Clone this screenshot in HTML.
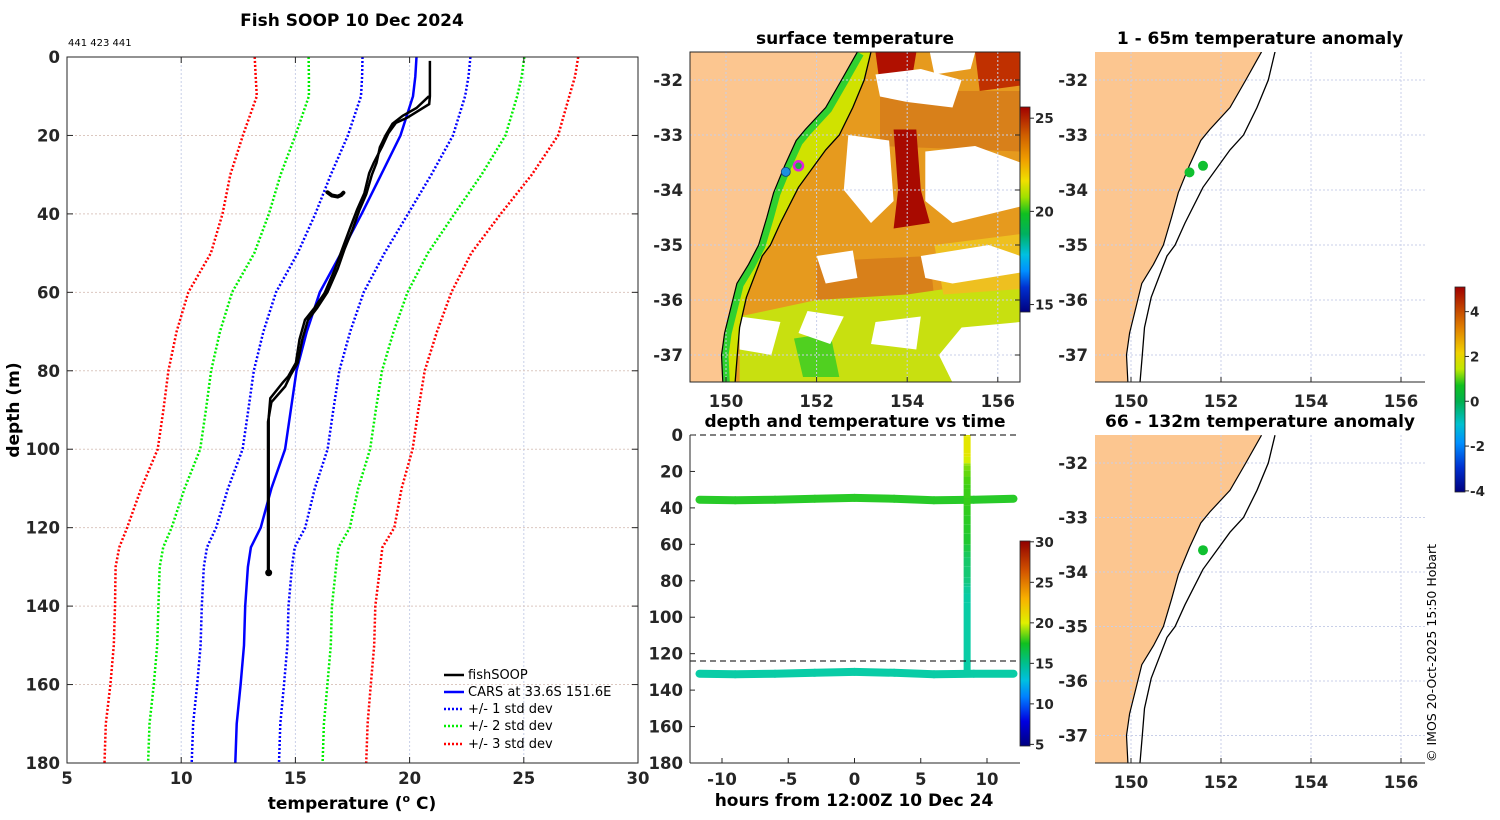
<!DOCTYPE html>
<html><head><meta charset="utf-8"><title>Fish SOOP 10 Dec 2024</title>
<style>
html,body{margin:0;padding:0;background:#fff;}
svg{display:block;font-family:"DejaVu Sans","Liberation Sans",sans-serif;}
.tk{font-size:16.5px;font-weight:bold;fill:#262626;}
.tt{font-size:17px;font-weight:bold;fill:#000;}
.cb{font-size:13.5px;font-weight:bold;fill:#262626;}
.lg{font-size:13px;fill:#000;}
</style></head>
<body>
<svg id="fig" width="1500" height="820" viewBox="0 0 1500 820" xmlns="http://www.w3.org/2000/svg">
<defs>
<clipPath id="clipL"><rect x="67" y="57" width="571" height="706"/></clipPath>
<clipPath id="clipM"><rect x="690" y="52" width="330" height="330"/></clipPath>
<clipPath id="clipT"><rect x="690" y="435" width="330" height="328"/></clipPath>
<clipPath id="clipR1"><rect x="1095" y="52" width="330" height="330"/></clipPath>
<clipPath id="clipR2"><rect x="1095" y="435" width="330" height="328"/></clipPath>
<linearGradient id="gSst" x1="0" y1="1" x2="0" y2="0">
<stop offset="0" stop-color="#00007f"/><stop offset="0.12" stop-color="#0030d0"/><stop offset="0.2" stop-color="#0090ff"/><stop offset="0.28" stop-color="#00c0e0"/><stop offset="0.38" stop-color="#00b060"/><stop offset="0.48" stop-color="#10c020"/><stop offset="0.56" stop-color="#a0e000"/><stop offset="0.64" stop-color="#f0e000"/><stop offset="0.74" stop-color="#f0a000"/><stop offset="0.86" stop-color="#d06000"/><stop offset="1" stop-color="#a00000"/></linearGradient>
<linearGradient id="gTime" x1="0" y1="1" x2="0" y2="0">
<stop offset="0" stop-color="#00007f"/><stop offset="0.12" stop-color="#0000e0"/><stop offset="0.24" stop-color="#0080ff"/><stop offset="0.32" stop-color="#00c0e0"/><stop offset="0.4" stop-color="#00c090"/><stop offset="0.5" stop-color="#10c020"/><stop offset="0.6" stop-color="#e0f000"/><stop offset="0.72" stop-color="#f8b000"/><stop offset="0.86" stop-color="#d05000"/><stop offset="1" stop-color="#900000"/></linearGradient>
<linearGradient id="gAnom" x1="0" y1="1" x2="0" y2="0">
<stop offset="0" stop-color="#00007f"/><stop offset="0.12" stop-color="#0030d0"/><stop offset="0.24" stop-color="#0090ff"/><stop offset="0.33" stop-color="#00c0d0"/><stop offset="0.44" stop-color="#00b050"/><stop offset="0.52" stop-color="#10c020"/><stop offset="0.6" stop-color="#c0e800"/><stop offset="0.68" stop-color="#f0d000"/><stop offset="0.8" stop-color="#e08000"/><stop offset="1" stop-color="#a00000"/></linearGradient>
</defs>

<text class="tt" x="352" y="26" text-anchor="middle">Fish SOOP 10 Dec 2024</text>
<text x="68" y="46" font-size="10" fill="#000">441 423 441</text>
<text class="tt" x="352" y="809" text-anchor="middle">temperature (<tspan font-size="11" dy="-7">o</tspan><tspan dy="7"> C)</tspan></text>
<text class="tt" transform="translate(19,410) rotate(-90)" text-anchor="middle">depth (m)</text>

<text class="tt" x="855" y="44" text-anchor="middle">surface temperature</text>
<text class="tt" x="855" y="427" text-anchor="middle">depth and temperature vs time</text>
<text class="tt" x="854" y="806" text-anchor="middle">hours from 12:00Z 10 Dec 24</text>
<text class="tt" x="1260" y="44" text-anchor="middle">1 - 65m temperature anomaly</text>
<text class="tt" x="1260" y="427" text-anchor="middle">66 - 132m temperature anomaly</text>
<text transform="translate(1436,762) rotate(-90)" font-size="12.5" fill="#000">© IMOS 20-Oct-2025 15:50 Hobart</text>

<g id="gL"></g>
<g id="gM"></g>
<g id="gT"></g>
<g id="gR1"></g>
<g id="gR2"></g>
<g id="gC"></g>

<g>
<line x1="444" y1="675" x2="464" y2="675" stroke="#000" stroke-width="2.5"/>
<text class="lg" x="468" y="679">fishSOOP</text>
<line x1="444" y1="692" x2="464" y2="692" stroke="#0000ff" stroke-width="2.5"/>
<text class="lg" x="468" y="696">CARS at 33.6S 151.6E</text>
<line x1="444" y1="709" x2="464" y2="709" stroke="#0000ff" stroke-width="2.5" stroke-dasharray="2,2"/>
<text class="lg" x="468" y="713">+/- 1 std dev</text>
<line x1="444" y1="726" x2="464" y2="726" stroke="#00ee00" stroke-width="2.5" stroke-dasharray="2,2"/>
<text class="lg" x="468" y="730">+/- 2 std dev</text>
<line x1="444" y1="744" x2="464" y2="744" stroke="#ff0000" stroke-width="2.5" stroke-dasharray="2,2"/>
<text class="lg" x="468" y="748">+/- 3 std dev</text>
</g>
</svg>
<script>
// ---------- profile data ----------
const carsDepth = [0,5,10,20,30,40,50,60,70,80,90,100,110,120,125,130,140,150,160,170,180];
const carsMean = [20.3,20.25,20.15,19.6,18.75,17.9,17.0,16.07,15.5,15.05,14.8,14.55,13.95,13.48,13.05,12.92,12.8,12.75,12.6,12.43,12.37];
const carsSd = [2.36,2.33,2.28,2.3,2.2,2.03,1.9,1.92,1.9,1.87,1.86,1.86,1.9,1.95,1.92,1.93,1.9,1.9,1.9,1.91,1.91];
const fishDepth1 = [1,10,12,15.5,16.8,19.4,22.8,27,29.6,34.7,38.9,44,49,54.2,60.2,64,67,72,78,81.4,83,87,92,131.5];
const fishTemp1 = [20.89,20.89,20.86,19.89,19.4,19.07,18.8,18.43,18.23,18.02,17.7,17.37,17.05,16.72,16.28,15.83,15.42,15.18,15.02,14.69,14.45,13.9,13.83,13.83];
const fishDepth2 = [10,13,15,17,20,23,27,30,35,39,44,49,54,60,64,67,72,78,81,84,88,93,131.5];
const fishTemp2 = [20.85,20.3,19.7,19.25,18.95,18.7,18.55,18.35,18.1,17.8,17.5,17.15,16.85,16.4,15.95,15.55,15.3,15.1,14.8,14.55,13.95,13.8,13.8];
const blobDepth = [34.5,35.3,35.6,35.2,34.6];
const blobTemp = [16.4,16.6,16.85,17.0,17.1];
const tempTicks = [5,10,15,20,25,30];
const depthTicks = [0,20,40,60,80,100,120,140,160,180];
// ---------- time panel data ----------
const bandHours = [-11.7,-9,-6,-3,0,3,6,9,12];
const upperBandDepth = [35.5,35.8,35.5,35,34.5,35,35.8,35.5,35];
const upperBandTemp = [17,17,17,17,17.1,17,17,17,17];
const lowerBandDepth = [131,131.3,131,130.5,130,130.5,131.3,131,131];
const lowerBandTemp = [13.8,13.8,13.8,13.8,13.8,13.8,13.8,13.8,13.8];
const castHour = 8.5;
const hourTicks = [-10,-5,0,5,10];
const timeDepthTicks = [0,20,40,60,80,100,120,140,160,180];
const dashedDepths = [0,124];
// ---------- map data ----------
const lonTicks = [150,152,154,156];
const latTicks = [-32,-33,-34,-35,-36,-37];
const coastLon = [152.9,152.55,152.2,151.75,151.55,151.3,151.05,150.9,150.72,150.5,150.24,150.12,149.97,149.9,149.93];
const coastLat = [-31.49,-32.0,-32.5,-32.9,-33.1,-33.55,-34.05,-34.5,-35.0,-35.35,-35.7,-36.1,-36.6,-37.0,-37.5];
const isoLon = [153.2,153.05,152.8,152.5,152.2,151.6,151.2,150.98,150.8,150.45,150.3,150.25,150.2];
const isoLat = [-31.49,-32.0,-32.5,-33.0,-33.27,-33.95,-34.6,-35.0,-35.2,-35.95,-36.5,-37.0,-37.5];
const sstStnLon = [151.32,151.6];
const sstStnLat = [-33.67,-33.56];
const anom1Lon = [151.3,151.6];
const anom1Lat = [-33.68,-33.56];
const anom2Lon = [151.6];
const anom2Lat = [-33.6];
const sstTicks = [15,20,25];
const timeCbTicks = [5,10,15,20,25,30];
const anomTicks = [-4,-2,0,2,4];

const NS='http://www.w3.org/2000/svg';
function mk(parent,tag,attrs){const e=document.createElementNS(NS,tag);for(const k in attrs)e.setAttribute(k,attrs[k]);parent.appendChild(e);return e;}

// ---------- profile panel ----------
const gL=document.getElementById('gL');
const xT=t=>67+(t-5)*(571/25);
const yD=d=>57+d*(706/180);
let el;
for(const t of tempTicks.slice(1,-1)){
  el=mk(gL,'line',{x1:xT(t),x2:xT(t),y1:57,y2:763,stroke:'#c8cfe8','stroke-width':1,'stroke-dasharray':'2,2'});
  
  
}
for(const d of depthTicks.slice(1,-1)){
  el=mk(gL,'line',{x1:67,x2:638,y1:yD(d),y2:yD(d),stroke:'#dcc8c0','stroke-width':1,'stroke-dasharray':'2,2'});
  
  
}
const pLine=(xs,ys)=>xs.map((x,i)=>xT(x).toFixed(1)+','+yD(ys[i]).toFixed(1)).join(' ');
const sdCols=['#0000ff','#00ee00','#ff0000'];
const plotG=mk(gL,'g',{'clip-path':'url(#clipL)'});


for(let k=3;k>=1;k--){
  for(const s of [-1,1]){
    el=mk(plotG,'polyline',{points:pLine(carsMean.map((m,i)=>m+s*k*carsSd[i]),carsDepth),fill:'none',stroke:sdCols[k-1],'stroke-width':2.5,'stroke-dasharray':'2,2'});
    
    
  }
}
el=mk(plotG,'polyline',{points:pLine(carsMean,carsDepth),fill:'none',stroke:'#0000ff','stroke-width':2.5});


el=mk(plotG,'polyline',{points:pLine(fishTemp1,fishDepth1),fill:'none',stroke:'#000','stroke-width':2.5});


el=mk(plotG,'polyline',{points:pLine(fishTemp2,fishDepth2),fill:'none',stroke:'#000','stroke-width':2.5});


el=mk(plotG,'polyline',{points:pLine(blobTemp,blobDepth),fill:'none',stroke:'#000','stroke-width':4,'stroke-linecap':'round'});


el=mk(plotG,'circle',{cx:xT(fishTemp1[fishTemp1.length-1]),cy:yD(fishDepth1[fishDepth1.length-1]),r:3.5,fill:'#000'});


el=mk(gL,'rect',{x:67,y:57,width:571,height:706,fill:'none',stroke:'#262626','stroke-width':1});


for(const t of tempTicks){
  el=mk(gL,'line',{x1:xT(t),x2:xT(t),y1:763,y2:757,stroke:'#262626'});
  
  
  el=mk(gL,'line',{x1:xT(t),x2:xT(t),y1:57,y2:63,stroke:'#262626'});
  
  
  el=mk(gL,'text',{x:xT(t),y:784,'text-anchor':'middle',class:'tk'});
  el.textContent=t;
  
  
}
for(const d of depthTicks){
  el=mk(gL,'line',{x1:67,x2:73,y1:yD(d),y2:yD(d),stroke:'#262626'});
  
  
  el=mk(gL,'line',{x1:632,x2:638,y1:yD(d),y2:yD(d),stroke:'#262626'});
  
  
  el=mk(gL,'text',{x:60,y:yD(d)+6,'text-anchor':'end',class:'tk'});
  el.textContent=d;
  
  
}

// ---------- map helper ----------
function mapAxes(g,x0,y0,w,h,clip,latStep,lonStep,latRef,yRef,drawSst,stations,box){
  const lonX=l=>x0+36+(l-150)*lonStep;
  const latY=l=>yRef-(l-latRef)*latStep;
  const poly=(pts)=>pts.map(p=>lonX(p[0]).toFixed(1)+','+latY(p[1]).toFixed(1)).join(' ');
  const coast=coastLon.map((l,i)=>[l,coastLat[i]]);
  const iso=isoLon.map((l,i)=>[l,isoLat[i]]);
  const cg=mk(g,'g',{'clip-path':'url(#'+clip+')'});
  
  
  if(drawSst){
    let e=mk(cg,'rect',{x:x0,y:y0,width:w,height:h,fill:'#e69a1e'});
    
    
    const shapes=[
      ['#d8801a',[[153.4,-32.2],[156.5,-32.2],[156.5,-33.3],[153.4,-33.2]]],
      ['#d8801a',[[152.0,-35.3],[154.5,-35.2],[154.6,-36.0],[152.0,-36.1]]],
      ['#c8e010',[[150.3,-36.3],[152,-36.0],[154,-35.9],[156.5,-35.6],[156.5,-37.5],[150.3,-37.5]]],
      ['#eec020',[[154.6,-35.0],[156.5,-34.8],[156.5,-35.8],[154.8,-35.9]]],
      ['#50d020',[[151.5,-36.7],[152.3,-36.6],[152.5,-37.4],[151.7,-37.4]]],
      ['#a80a00',[[153.7,-32.9],[154.2,-32.9],[154.3,-34.0],[154.5,-34.6],[153.7,-34.7],[153.8,-34.0]]],
      ['#b01000',[[153.3,-31.5],[154.2,-31.5],[154.1,-32.0],[153.4,-32.1]]],
      ['#c03000',[[155.5,-31.5],[156.5,-31.5],[156.5,-32.1],[155.6,-32.2]]],
      ['#ffffff',[[152.7,-33.0],[153.6,-33.1],[153.7,-34.2],[153.2,-34.6],[152.6,-34.0]]],
      ['#ffffff',[[154.4,-33.3],[155.5,-33.2],[156.5,-33.5],[156.5,-34.3],[155.0,-34.6],[154.4,-34.2]]],
      ['#ffffff',[[153.3,-31.9],[154.3,-31.8],[155.2,-32.0],[155.0,-32.5],[154.0,-32.4],[153.4,-32.3]]],
      ['#ffffff',[[154.3,-35.2],[155.8,-35.0],[156.5,-35.2],[156.5,-35.5],[155.0,-35.7],[154.4,-35.6]]],
      ['#ffffff',[[154.5,-31.5],[155.5,-31.5],[155.4,-31.8],[154.6,-31.9]]],
      ['#ffffff',[[151.8,-36.2],[152.6,-36.3],[152.3,-36.8],[151.6,-36.6]]],
      ['#ffffff',[[152.0,-35.2],[152.8,-35.1],[152.9,-35.6],[152.2,-35.7]]],
      ['#ffffff',[[155.2,-36.5],[156.5,-36.4],[156.5,-37.5],[155.0,-37.5],[154.7,-37.0]]],
      ['#ffffff',[[153.3,-36.4],[154.3,-36.3],[154.2,-36.9],[153.2,-36.8]]],
      ['#ffffff',[[150.3,-36.3],[151.2,-36.4],[151.0,-37.0],[150.3,-36.9]]]
    ];
    for(const s of shapes){
      e=mk(cg,'polygon',{points:poly(s[1]),fill:s[0]});
      
      
    }
    e=mk(cg,'polygon',{points:poly(coast.concat(iso.slice().reverse())),fill:'#d0e200'});
    
    
    e=mk(cg,'polyline',{points:poly(coast),fill:'none',stroke:'#30d030','stroke-width':14});
    
    
  }
  let e=mk(cg,'polygon',{points:poly([[149.0,-31.3]].concat(coast).concat([[149.0,-37.7]])),fill:'#fcc690'});
  
  
  for(const l of lonTicks){
    e=mk(cg,'line',{x1:lonX(l),x2:lonX(l),y1:y0,y2:y0+h,stroke:'#c8cfe8','stroke-dasharray':'2,2'});
    
    
  }
  for(const l of latTicks){
    e=mk(cg,'line',{x1:x0,x2:x0+w,y1:latY(l),y2:latY(l),stroke:'#c8cfe8','stroke-dasharray':'2,2'});
    
    
  }
  e=mk(cg,'polyline',{points:poly(coast),fill:'none',stroke:'#000','stroke-width':1.2});
  
  
  e=mk(cg,'polyline',{points:poly(iso),fill:'none',stroke:'#000','stroke-width':1.3});
  
  
  for(const s of stations){
    e=mk(cg,'circle',{cx:lonX(s[0]),cy:latY(s[1]),r:s[3]||4.5,fill:s[2],stroke:s[4]||'none','stroke-width':s[5]||0});
    
    
  }
  if(box){
    e=mk(g,'rect',{x:x0,y:y0,width:w,height:h,fill:'none',stroke:'#262626'});
    
    
  } else {
    e=mk(g,'line',{x1:x0,x2:x0+w,y1:y0+h,y2:y0+h,stroke:'#262626'});
    
    
  }
  for(const l of lonTicks){
    e=mk(g,'line',{x1:lonX(l),x2:lonX(l),y1:y0+h,y2:y0+h-5,stroke:'#262626'});
    
    
    e=mk(g,'text',{x:lonX(l),y:y0+h+25,'text-anchor':'middle',class:'tk'});
    e.textContent=l;
    
    
  }
  for(const l of latTicks){
    e=mk(g,'text',{x:x0-7,y:latY(l)+6,'text-anchor':'end',class:'tk'});
    e.textContent=l;
    
    
    if(box){
      e=mk(g,'line',{x1:x0+w,x2:x0+w-5,y1:latY(l),y2:latY(l),stroke:'#262626'});
      
      
    }
  }
}
const sstSt=[[sstStnLon[0],sstStnLat[0],'#1e90e0',4.5,'#104080',0.8],[sstStnLon[1],sstStnLat[1],'#20b040',4.5,'#e020e0',2.5]];
mapAxes(document.getElementById('gM'),690,52,330,330,'clipM',55,45.3,-32,80,true,sstSt,true);
mapAxes(document.getElementById('gR1'),1095,52,330,330,'clipR1',55,45,-32,80,false,anom1Lon.map((l,i)=>[l,anom1Lat[i],'#10c030',5]),false);
mapAxes(document.getElementById('gR2'),1095,435,330,328,'clipR2',54.5,45,-32,463,false,anom2Lon.map((l,i)=>[l,anom2Lat[i],'#10c030',5]),false);

// ---------- time panel ----------
const gT=document.getElementById('gT');
const xH=h=>722+(h+10)*13.25;
const yT=d=>435+d*(328/180);
const cmapStops=[[5,[0,0,127]],[8,[0,0,255]],[11,[0,160,255]],[13,[0,208,192]],[14.5,[16,200,144]],[16.5,[32,200,48]],[18.5,[64,208,16]],[20.5,[224,240,0]],[23,[248,176,0]],[26,[224,96,0]],[30,[144,0,0]]];
function cmap(t){
  if(t<=cmapStops[0][0])return 'rgb('+cmapStops[0][1]+')';
  for(let i=1;i<cmapStops.length;i++){
    if(t<=cmapStops[i][0]){const a=cmapStops[i-1],b=cmapStops[i],f=(t-a[0])/(b[0]-a[0]);
      return 'rgb('+a[1].map((v,j)=>Math.round(v+(b[1][j]-v)*f)).join(',')+')';}
  }
  return 'rgb('+cmapStops[cmapStops.length-1][1]+')';
}
const tG=mk(gT,'g',{'clip-path':'url(#clipT)'});


function band(hs,ds,ts,name){
  for(let i=0;i<hs.length-1;i++){
    el=mk(tG,'line',{x1:xH(hs[i]),y1:yT(ds[i]),x2:xH(hs[i+1]),y2:yT(ds[i+1]),stroke:cmap((ts[i]+ts[i+1])/2),'stroke-width':8,'stroke-linecap':'round'});
    
    
  }
}
band(bandHours,upperBandDepth,upperBandTemp,'upper-depth-band');
band(bandHours,lowerBandDepth,lowerBandTemp,'lower-depth-band');
const castD=[0].concat(fishDepth1), castTm=[fishTemp1[0]].concat(fishTemp1);
for(let i=0;i<castD.length-1;i++){
  el=mk(tG,'line',{x1:xH(castHour),y1:yT(castD[i]),x2:xH(castHour),y2:yT(castD[i+1]),stroke:cmap((castTm[i]+castTm[i+1])/2),'stroke-width':7});
  
  
}
for(const d of dashedDepths){
  el=mk(gT,'line',{x1:690,x2:1020,y1:yT(d),y2:yT(d),stroke:'#000','stroke-dasharray':'6,4'});
  
  
}
el=mk(gT,'line',{x1:690,x2:690,y1:435,y2:763,stroke:'#262626'});


el=mk(gT,'line',{x1:690,x2:1020,y1:763,y2:763,stroke:'#262626'});


for(const h of hourTicks){
  el=mk(gT,'line',{x1:xH(h),x2:xH(h),y1:763,y2:758,stroke:'#262626'});
  
  
  el=mk(gT,'text',{x:xH(h),y:785,'text-anchor':'middle',class:'tk'});
  el.textContent=h;
  
  
}
for(const d of timeDepthTicks){
  el=mk(gT,'line',{x1:690,x2:695,y1:yT(d),y2:yT(d),stroke:'#262626'});
  
  
  el=mk(gT,'text',{x:683,y:yT(d)+6,'text-anchor':'end',class:'tk'});
  el.textContent=d;
  
  
}

// ---------- colorbars ----------
const gC=document.getElementById('gC');
function colorbar(x,y0,y1,grad,ticks,vTop,vBot,name){
  el=mk(gC,'rect',{x:x,y:y0,width:10,height:y1-y0,fill:'url(#'+grad+')',stroke:'#262626','stroke-width':0.8});
  
  
  for(const t of ticks){
    const yy=y0+(vTop-t)/(vTop-vBot)*(y1-y0);
    el=mk(gC,'line',{x1:x+10,x2:x+14,y1:yy,y2:yy,stroke:'#262626'});
    
    
    el=mk(gC,'text',{x:x+15,y:yy+5,class:'cb'});
    el.textContent=t;
    
    
  }
}
colorbar(1020,107,312,'gSst',sstTicks,25.6,14.6,'sst-colorbar');
colorbar(1020,541,746,'gTime',timeCbTicks,30.1,4.8,'time-colorbar');
colorbar(1455,287,492,'gAnom',anomTicks,5.1,-4.05,'anomaly-colorbar');
</script>
</body></html>
